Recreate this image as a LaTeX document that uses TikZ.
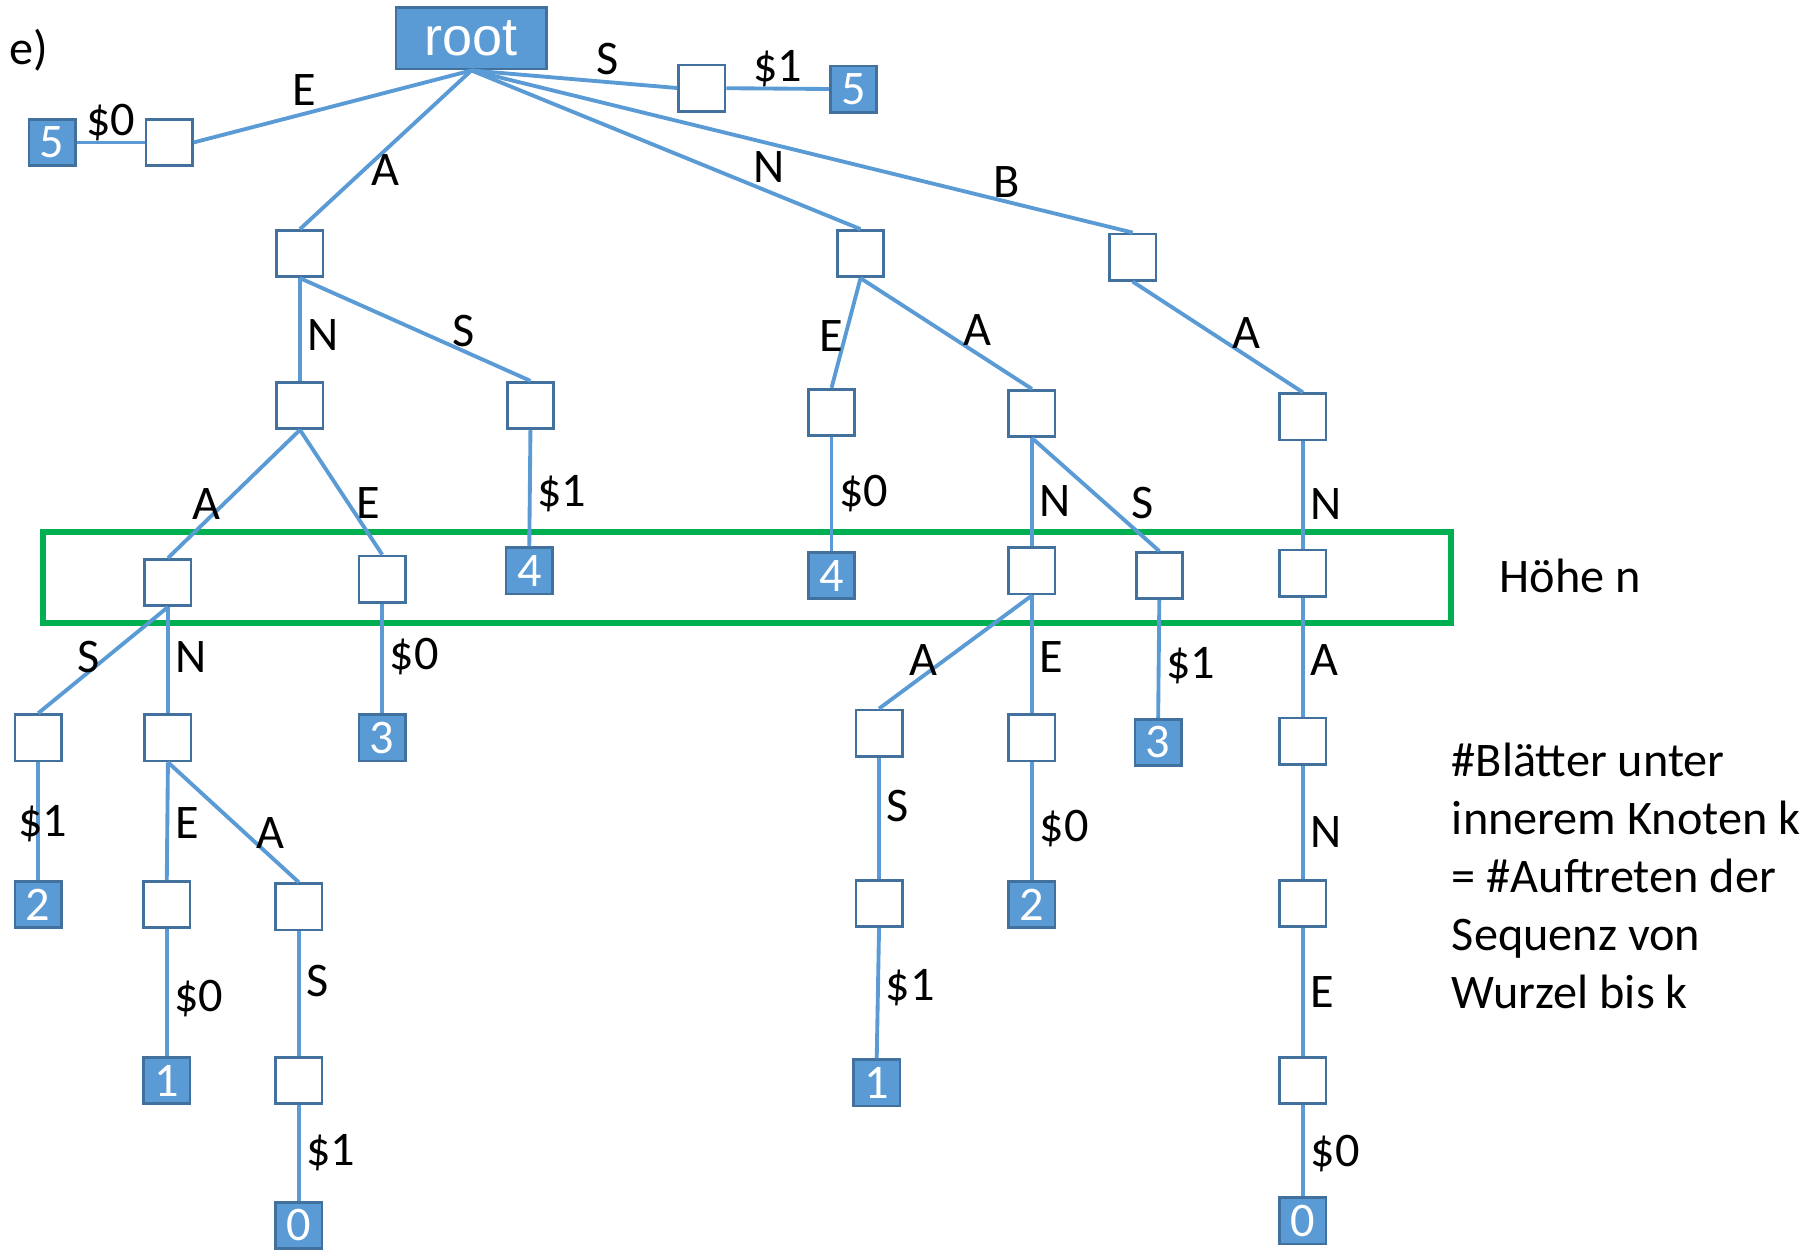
\documentclass[tikz,border=0pt]{standalone}
\usepackage{fontspec}
\setmainfont{Carlito}
\newfontfamily\rootfont{Liberation Sans}
\usetikzlibrary{positioning}
\definecolor{edgeblue}{HTML}{5B9BD5}
\definecolor{boxblue}{HTML}{41719C}
\definecolor{hgreen}{HTML}{00B050}

\begin{document}
\begin{tikzpicture}[x=0.3pt, y=-0.3pt, every node/.style={font=\fontsize{12.5}{15}\selectfont}]

  \tikzstyle{knot}=[draw=boxblue, fill=white, line width=.7pt, minimum size=12pt, inner sep=0pt]
  \tikzstyle{leaf}=[knot, fill=edgeblue, text=white]
  \tikzstyle{rootbox}=[leaf, minimum width=39pt, minimum height=16pt, font=\rootfont\fontsize{14}{16}\selectfont]
  \tikzstyle{link}=[draw=edgeblue, line width=1pt]
  \tikzstyle{lbl}=[inner sep=1.5pt]

  \useasboundingbox (0,0) rectangle (1568,1083);

  \node at (25,43) {e)};
  \node [rootbox] (root) at (407,33) {root};

  % first level
  \node [knot] (E) at (146,123) {};
  \node [leaf] (E-leaf) at (45,123) {5};
  \node [knot] (S) at (606,76) {};
  \node [leaf] (S-leaf) at (737,77) {5};
  \node [knot] (A) at (259,219) {};
  \node [knot] (N) at (743,219) {};
  \node [knot] (B) at (978,222) {};

  % second level
  \node [knot] (AN) at (259,350) {};
  \node [knot] (AS) at (458,350) {};
  \node [knot] (NE) at (718,356) {};
  \node [knot] (NA) at (891,357) {};
  \node [knot] (BA) at (1125,360) {};

  % height n
  \node [knot] (ANA) at (145,503) {};
  \node [knot] (ANE) at (330,500) {};
  \node [leaf] (AS-leaf) at (457,493) {4};
  \node [leaf] (NE-leaf) at (718,497) {4};
  \node [knot] (NAN) at (891,493) {};
  \node [knot] (NAS) at (1001,497) {};
  \node [knot] (BAN) at (1125,495) {};

  % below
  \node [knot] (ANAS) at (33,637) {};
  \node [knot] (ANAN) at (145,637) {};
  \node [leaf] (ANE-leaf) at (330,637) {3};
  \node [knot] (NANA) at (759,633) {};
  \node [knot] (NANE) at (891,637) {};
  \node [leaf] (NAS-leaf) at (1000,641) {3};
  \node [knot] (BANA) at (1125,640) {};

  \node [leaf] (ANAS-leaf) at (33,781) {2};
  \node [knot] (ANANE) at (144,781) {};
  \node [knot] (ANANA) at (258,783) {};
  \node [knot] (NANAS) at (759,780) {};
  \node [leaf] (NANE-leaf) at (891,781) {2};
  \node [knot] (BANAN) at (1125,780) {};

  \node [leaf] (ANANE-leaf) at (144,933) {1};
  \node [knot] (ANANAS) at (258,933) {};
  \node [leaf] (NANAS-leaf) at (757,935) {1};
  \node [knot] (BANANE) at (1125,933) {};

  \node [leaf] (ANANAS-leaf) at (258,1058) {0};
  \node [leaf] (BANANE-leaf) at (1125,1054) {0};

  \draw [hgreen, line width=1.5pt] (37,459) rectangle (1253,538);
  \node at (1356,497) {Höhe n};
  \node [align=left, anchor=north west, inner sep=0pt] (note) at (1253,641) {
    \#Blätter unter \\ innerem Knoten k \\ = \#Auftreten der \\ Sequenz von \\ Wurzel bis k
  };

  \draw [link] (root.south) -- (E.east) node[lbl, pos=.6, above] {E};
  \draw [link] (E) -- (E-leaf) node[lbl, midway, above, inner sep=0pt] {\$0};
  \draw [link] (root.south) -- (S.west) node[lbl, pos=.66, above] {S};
  \draw [link] (S) -- (S-leaf) node[lbl, midway, above, inner sep=0pt] {\$1};
  \draw [link] (root.south) -- (A.north) node[lbl, pos=.63, right] {A};
  \draw [link] (root.south) -- (N.north) node[lbl, pos=.72, above right, inner sep=0pt] {N};
  \draw [link] (root.south) -- (B.north) node[lbl, pos=.81, above, inner sep=.5pt] {B};

  \draw [link] (A.south) -- (AN.north) node[lbl, pos=.55, right] {N};
  \draw [link] (A.south) -- (AS.north) node[lbl, pos=.71, above, inner sep=.5pt] {S};
  \draw [link] (N.south) -- (NE.north) node[lbl, pos=.53, left, inner sep=0pt] {E};
  \draw [link] (N.south) -- (NA.north) node[lbl, pos=.68, above] {A};
  \draw [link] (B.south) -- (BA.north) node[lbl, pos=.67, above] {A};

  \draw [link] (AN.south) -- (ANA.north) node[lbl, pos=.575, left, inner sep=.5pt] {A};
  \draw [link] (AN.south) -- (ANE.north) node[lbl, pos=.59, right] {E};
  \draw [link] (AS.south) -- (AS-leaf.north) node[lbl, pos=.55, right] {\$1};
  \draw [link] (NE.south) -- (NE-leaf.north) node[lbl, pos=.5, right] {\$0};
  \draw [link] (NA.south) -- (NAN.north) node[lbl, pos=.58, right] {N};
  \draw [link] (NA.south) -- (NAS.north) node[lbl, pos=.75, above right, inner sep=.5pt] {S};
  \draw [link] (BA.south) -- (BAN.north) node[lbl, pos=.58, right] {N};

  \draw [link] (ANA.south) -- (ANAS.north) node[lbl, pos=.47, left] {S};
  \draw [link] (ANA.south) -- (ANAN.north) node[lbl, pos=.47, right] {N};
  \draw [link] (ANE.south) -- (ANE-leaf.north) node[lbl, pos=.48, right] {\$0};
  \draw [link] (NAN.south) -- (NANA.north) node[lbl, pos=.57, left] {A};
  \draw [link] (NAN.south) -- (NANE.north) node[lbl, pos=.52, right] {E};
  \draw [link] (NAS.south) -- (NAS-leaf.north) node[lbl, pos=.56, right] {\$1};
  \draw [link] (BAN.south) -- (BANA.north) node[lbl, pos=.52, right] {A};

  \draw [link] (ANAS.south) -- (ANAS-leaf.north) node[lbl, pos=.52, xshift=1.2pt] {\$1};
  \draw [link] (ANAN.south) -- (ANANE.north) node[lbl, pos=.52, right] {E};
  \draw [link] (ANAN.south) -- (ANANA.north) node[lbl, pos=.78, above] {A};
  \draw [link] (NANA.south) -- (NANAS.north) node[lbl, pos=.4, right] {S};
  \draw [link] (NANE.south) -- (NANE-leaf.north) node[lbl, pos=.56, right] {\$0};
  \draw [link] (BANA.south) -- (BANAN.north) node[lbl, pos=.59, right] {N};

  \draw [link] (ANANE.south) -- (ANANE-leaf.north) node[lbl, pos=.55, right] {\$0};
  \draw [link] (ANANA.south) -- (ANANAS.north) node[lbl, pos=.4, right] {S};
  \draw [link] (NANAS.south) -- (NANAS-leaf.north) node[lbl, pos=.46, right] {\$1};
  \draw [link] (BANAN.south) -- (BANANE.north) node[lbl, pos=.5, right] {E};

  \draw [link] (ANANAS.south) -- (ANANAS-leaf.north) node[lbl, pos=.5, right] {\$1};
  \draw [link] (BANANE.south) -- (BANANE-leaf.north) node[lbl, pos=.53, right] {\$0};
\end{tikzpicture}
\end{document}
